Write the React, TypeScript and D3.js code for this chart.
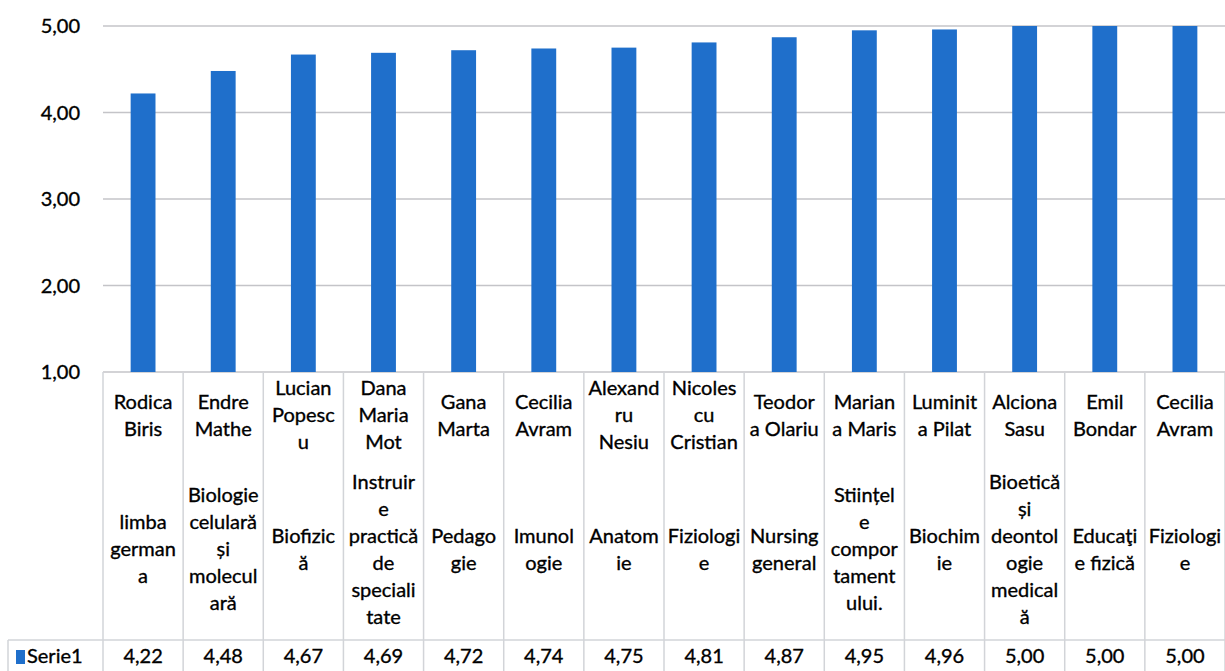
import React, { useEffect, useRef } from 'react';
import * as d3 from 'd3';

// lecturer names, wrapped the way the table cells wrap them
const names: string[][] = [
  ['Rodica', 'Biris'],
  ['Endre', 'Mathe'],
  ['Lucian', 'Popesc', 'u'],
  ['Dana', 'Maria', 'Mot'],
  ['Gana', 'Marta'],
  ['Cecilia', 'Avram'],
  ['Alexand', 'ru', 'Nesiu'],
  ['Nicoles', 'cu', 'Cristian'],
  ['Teodor', 'a Olariu'],
  ['Marian', 'a Maris'],
  ['Luminit', 'a Pilat'],
  ['Alciona', 'Sasu'],
  ['Emil', 'Bondar'],
  ['Cecilia', 'Avram'],
];

const subjects: string[][] = [
  ['limba', 'german', 'a'],
  ['Biologie', 'celulară', 'și', 'molecul', 'ară'],
  ['Biofizic', 'ă'],
  ['Instruir', 'e', 'practică', 'de', 'speciali', 'tate'],
  ['Pedago', 'gie'],
  ['Imunol', 'ogie'],
  ['Anatom', 'ie'],
  ['Fiziologi', 'e'],
  ['Nursing', 'general'],
  ['Stiințel', 'e', 'compor', 'tament', 'ului.'],
  ['Biochim', 'ie'],
  ['Bioetică', 'și', 'deontol', 'ogie', 'medical', 'ă'],
  ['Educaţi', 'e fizică'],
  ['Fiziologi', 'e'],
];

const serie1: number[] = [4.22, 4.48, 4.67, 4.69, 4.72, 4.74, 4.75, 4.81, 4.87, 4.95, 4.96, 5.0, 5.0, 5.0];
const seriesName = 'Serie1';
const yTicks: number[] = [1, 2, 3, 4, 5];

const W = 1225;
const H = 671;
const FONT = 'Lato, "Open Sans", sans-serif';

const App = () => {
  const ref = useRef<SVGSVGElement>(null);

  useEffect(() => {
    const svg = d3.select(ref.current);
    svg.selectAll('*').remove();

    const left = 103;
    const top = 26;
    const base = 372;
    const rowTop = 640;
    const lineH = 27;
    const fmt = (v: number) => v.toFixed(2).replace('.', ',');

    // scanned text looks a bit heavier than a clean render
    const ink = (sel: any) =>
      sel.attr('font-family', FONT).attr('font-size', 20).attr('fill', '#000')
        .attr('stroke', '#000').attr('stroke-width', 0.35);

    const x = d3.scaleBand<number>().domain(d3.range(serie1.length)).range([left, W]).padding(0);
    const y = d3.scaleLinear().domain([1, 5]).range([base, top]);

    // gridlines
    svg.append('g')
      .selectAll('line')
      .data(yTicks)
      .join('line')
      .attr('x1', left)
      .attr('x2', W)
      .attr('y1', d => y(d))
      .attr('y2', d => y(d))
      .attr('stroke', '#c4c4c8')
      .attr('stroke-width', 1.5);

    // y labels
    svg.append('g')
      .call(ink)
      .selectAll('text')
      .data(yTicks)
      .join('text')
      .attr('x', 80)
      .attr('y', d => y(d))
      .attr('dy', '0.35em')
      .attr('text-anchor', 'end')
      .text(d => fmt(d));

    // bars
    const bw = x.bandwidth() * 0.31;
    svg.append('g')
      .selectAll('rect')
      .data(serie1)
      .join('rect')
      .attr('x', (d, i) => x(i)! + (x.bandwidth() - bw) / 2)
      .attr('y', d => y(d))
      .attr('width', bw)
      .attr('height', d => base - y(d))
      .attr('fill', '#1f6fcb');

    // table borders
    const grid = svg.append('g').attr('stroke', '#d2d4d8').attr('stroke-width', 1.5);
    grid.selectAll('line.v')
      .data(d3.range(serie1.length + 1))
      .join('line')
      .attr('class', 'v')
      .attr('x1', i => (i < serie1.length ? x(i)! : W))
      .attr('x2', i => (i < serie1.length ? x(i)! : W))
      .attr('y1', base)
      .attr('y2', H);
    grid.append('line').attr('x1', 8).attr('x2', W).attr('y1', rowTop).attr('y2', rowTop);
    grid.append('line').attr('x1', 8).attr('x2', 8).attr('y1', rowTop).attr('y2', H);

    const cx = (i: number) => x(i)! + x.bandwidth() / 2;

    const addBlock = (lines: string[][], center: number) => {
      const g = svg.append('g').call(ink).attr('text-anchor', 'middle');
      lines.forEach((ls, i) => {
        ls.forEach((t, j) => {
          g.append('text')
            .attr('x', cx(i))
            .attr('y', center + (j - (ls.length - 1) / 2) * lineH)
            .attr('dy', '0.35em')
            .text(t);
        });
      });
    };
    addBlock(names, 415);
    addBlock(subjects, 549);

    // data row
    svg.append('rect').attr('x', 16).attr('y', 650).attr('width', 9).attr('height', 14).attr('fill', '#1f6fcb');
    svg.append('text')
      .call(ink)
      .attr('x', 27)
      .attr('y', 656)
      .attr('dy', '0.35em')
      .text(seriesName);
    svg.append('g')
      .call(ink)
      .attr('text-anchor', 'middle')
      .selectAll('text')
      .data(serie1)
      .join('text')
      .attr('x', (d, i) => cx(i))
      .attr('y', 656)
      .attr('dy', '0.35em')
      .text(d => fmt(d));
  }, []);

  return (
    <div style={{ position: 'absolute', left: 0, top: 0, background: '#fff' }}>
      <svg ref={ref} width={W} height={H}></svg>
    </div>
  );
};

export default App;
